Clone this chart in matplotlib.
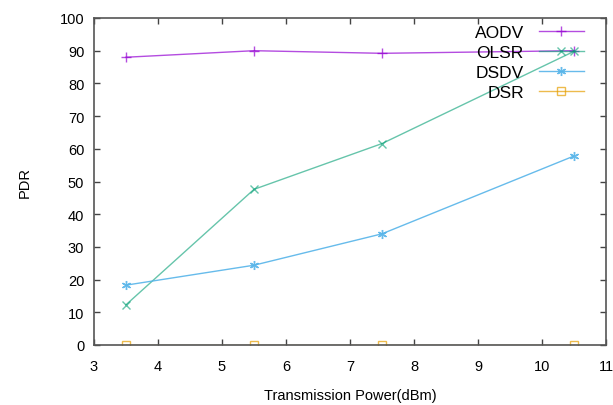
import matplotlib
matplotlib.use("Agg")
import matplotlib.pyplot as plt

power = [3.5, 5.5, 7.5, 10.5]
aodv = [88.0, 90.0, 89.2, 90.0]
olsr = [12.3, 47.6, 61.6, 89.8]
dsdv = [18.3, 24.4, 34.0, 57.8]
dsr = [0, 0, 0, 0]

xticks = list(range(3, 12))
yticks = list(range(0, 101, 10))

plt.rcParams['font.family'] = ['Liberation Sans', 'DejaVu Sans']

fig = plt.figure(figsize=(6.13, 4.06), dpi=100)
ax = fig.add_axes([94/613, 1-346/406, (606-94)/613, (346-19)/406])

ax.plot(power, aodv, color='#9400d3', lw=1, marker='+', ms=7, mew=1, label='AODV', alpha=0.7)
ax.plot(power, olsr, color='#009e73', lw=1, marker='x', ms=5.5, mew=1, label='OLSR', alpha=0.6)
ax.plot(power, dsdv, color='#56b4e9', lw=1, marker=(6, 2, 0), ms=6.5, mew=1, label='DSDV', alpha=0.9)
ax.plot(power, dsr, color='#e69f00', lw=1, marker='s', ms=5.5, mew=1, mfc='none', label='DSR', alpha=0.7)

ax.set_xlim(3, 11)
ax.set_ylim(0, 100)
ax.set_xticks(xticks)
ax.set_yticks(yticks)
ax.tick_params(direction='in', top=True, right=True, length=4, width=1, color='#444444', labelsize=10.5)
ax.tick_params(axis='x', pad=10)
ax.tick_params(axis='y', pad=7)
for s in ax.spines.values():
    s.set_color('#555555')
    s.set_linewidth(1.2)
    s.set_zorder(5)
ax.set_xlabel('Transmission Power(dBm)', fontsize=10.5, labelpad=11)
ax.set_ylabel('PDR', fontsize=10.5, labelpad=20)

leg = ax.legend(loc='upper right', frameon=False, markerfirst=False, fontsize=12.5,
                handlelength=2.6, labelspacing=0.27, borderaxespad=0.05, handletextpad=0.85,
                borderpad=0.2, bbox_to_anchor=(0.965, 0.992))
for t in leg.get_texts():
    t.set_ha('right')

fig.savefig('out.png', dpi=100)
